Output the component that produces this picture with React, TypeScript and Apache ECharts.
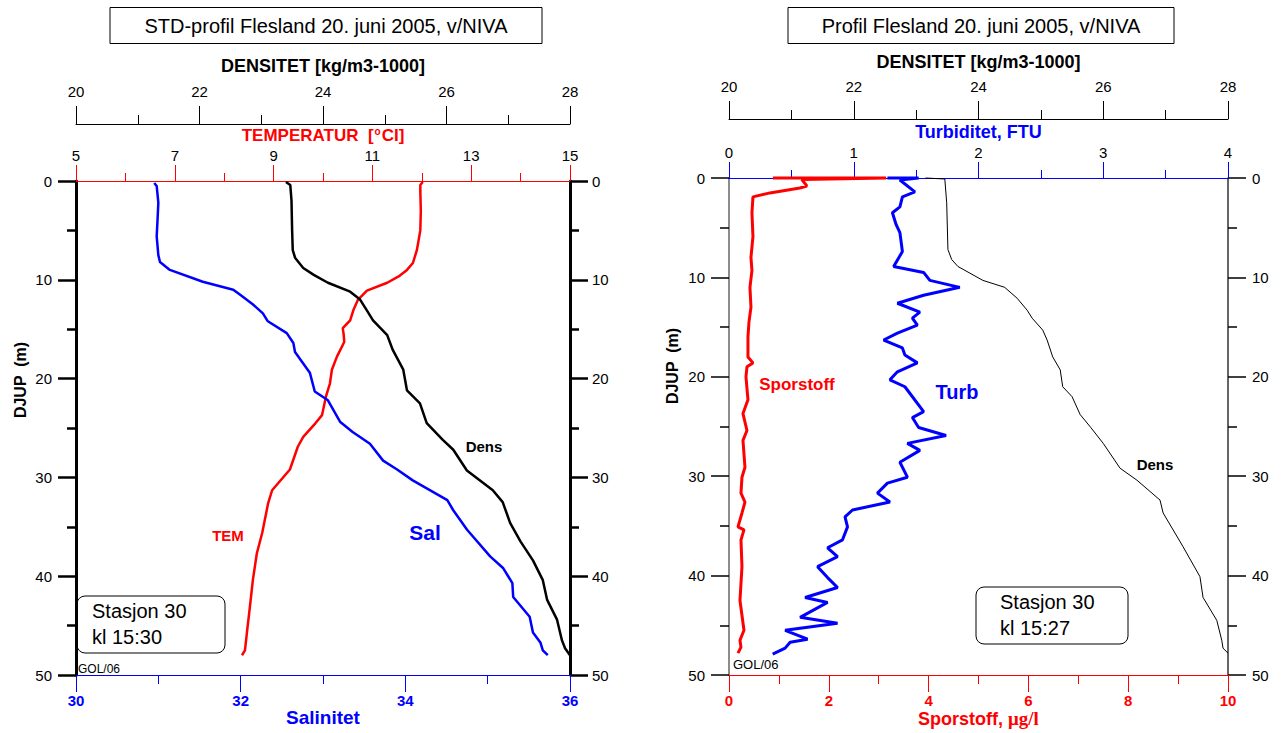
import React, { useEffect, useRef } from "react";
import * as echarts from "echarts";

// ---------- Left panel data (depth in m) ----------
const temDepth = [0.1, 0.4, 1, 3, 5, 7, 8.3, 9, 9.6, 10.3, 11.1, 12, 13, 14.1, 14.9, 15.6, 16.3, 17.8, 19.1, 20.5, 21.8, 23.7, 24.5, 25.9, 26.9, 29.2, 31.3, 32.6, 35.6, 37.7, 40.4, 43.1, 45.7, 47.5, 48];
const temVal = [12.02, 11.97, 11.97, 11.98, 11.97, 11.9, 11.82, 11.7, 11.55, 11.3, 10.89, 10.71, 10.62, 10.55, 10.4, 10.42, 10.43, 10.28, 10.18, 10.14, 10.06, 9.98, 9.85, 9.6, 9.49, 9.33, 8.97, 8.89, 8.77, 8.66, 8.58, 8.52, 8.46, 8.42, 8.36];

const salDepth = [0.2, 0.5, 2.2, 4, 5.6, 7.5, 8.2, 9, 10.2, 11, 11.5, 12.5, 13.4, 14.2, 15.4, 16.4, 17.3, 19.4, 21.3, 22.2, 24.4, 25.4, 26.6, 28.3, 29.2, 30.3, 32.3, 33.3, 35.3, 38, 39.2, 40.7, 42.1, 44.1, 45.7, 46.7, 47.5, 48];
const salVal = [30.95, 30.98, 31.0, 30.99, 30.98, 31.0, 31.02, 31.14, 31.54, 31.91, 31.99, 32.15, 32.27, 32.33, 32.56, 32.64, 32.66, 32.84, 32.9, 33.06, 33.21, 33.36, 33.57, 33.73, 33.9, 34.09, 34.51, 34.58, 34.75, 35.03, 35.19, 35.3, 35.31, 35.51, 35.55, 35.64, 35.67, 35.73];

const densLDepth = [0.1, 0.4, 2, 5, 7, 7.8, 8.8, 9.5, 10.3, 11.2, 12, 13, 14.1, 15.6, 17.1, 19.1, 21.2, 22.5, 24.5, 26.2, 27.2, 29.3, 31.3, 32.5, 34.6, 36.5, 38.4, 40.4, 42.4, 44.4, 46.5, 47.3, 48];
const densLVal = [23.4, 23.47, 23.49, 23.5, 23.51, 23.55, 23.68, 23.85, 24.08, 24.44, 24.6, 24.7, 24.81, 25.04, 25.13, 25.3, 25.36, 25.57, 25.68, 25.94, 26.11, 26.33, 26.75, 26.91, 27.03, 27.2, 27.4, 27.56, 27.63, 27.79, 27.87, 27.92, 28.0];

// ---------- Right panel data ----------
const sporDepth = [0, 0, 0.15, 0.8, 1.0, 1.5, 1.9, 3.5, 5.9, 8, 9.3, 11, 13, 14.5, 16, 18, 18.6, 19, 20, 22.3, 23.7, 25.4, 26.4, 29.1, 30.1, 31.7, 32.6, 33.7, 35.1, 35.4, 36.4, 39.1, 42.5, 45.5, 46.5, 47.2, 47.8];
const sporVal = [0.88, 3.15, 1.46, 1.56, 1.42, 0.82, 0.48, 0.46, 0.48, 0.44, 0.46, 0.42, 0.44, 0.4, 0.38, 0.38, 0.48, 0.36, 0.34, 0.38, 0.28, 0.36, 0.28, 0.32, 0.26, 0.24, 0.32, 0.26, 0.18, 0.3, 0.24, 0.26, 0.22, 0.3, 0.22, 0.24, 0.18];

const turbDepth = [0, 0, 0.2, 1.4, 1.9, 2.9, 3.5, 4.7, 5.5, 7.4, 8.9, 9.5, 10.3, 11.0, 11.8, 12.6, 13.5, 14.1, 14.8, 15.6, 16.3, 17.1, 17.8, 18.6, 19.5, 20.3, 21.0, 23.5, 24.1, 25.1, 25.9, 26.7, 27.4, 28.6, 30.1, 30.7, 31.7, 32.6, 33.4, 34.1, 35.1, 36.4, 37.2, 38.1, 39.1, 40.2, 41.2, 42.2, 42.7, 44.2, 44.8, 45.5, 46.4, 46.7, 47.3, 47.9];
const turbVal = [1.27, 1.52, 1.37, 1.49, 1.39, 1.37, 1.31, 1.34, 1.37, 1.39, 1.32, 1.56, 1.61, 1.85, 1.56, 1.35, 1.53, 1.47, 1.51, 1.35, 1.24, 1.39, 1.41, 1.51, 1.35, 1.29, 1.41, 1.56, 1.47, 1.52, 1.74, 1.43, 1.53, 1.37, 1.43, 1.27, 1.19, 1.29, 0.99, 0.93, 0.95, 0.91, 0.79, 0.87, 0.71, 0.79, 0.87, 0.61, 0.79, 0.57, 0.87, 0.45, 0.63, 0.49, 0.45, 0.35];

const densRDepth = [0, 0.1, 2.5, 7.2, 8.2, 8.9, 10.3, 11, 12.1, 13.3, 14.1, 15.3, 16.3, 18, 19.3, 21, 22, 23.8, 25.1, 26.7, 29.2, 30.4, 32.4, 33.7, 37.1, 40.1, 42.2, 44.5, 46.5, 47.3, 47.8];
const densRVal = [23.15, 23.46, 23.49, 23.51, 23.57, 23.67, 24.07, 24.42, 24.62, 24.78, 24.86, 25.03, 25.1, 25.19, 25.31, 25.35, 25.5, 25.63, 25.8, 26.0, 26.27, 26.54, 26.91, 26.96, 27.28, 27.55, 27.6, 27.82, 27.9, 27.92, 28.0];

const FONT = '"Liberation Sans", Arial, sans-serif';

function pairs(vals: number[], depths: number[]) {
  return vals.map((v, i) => [v, depths[i]]);
}

function xAx(o: any) {
  return {
    type: "value",
    gridIndex: o.grid,
    position: o.pos,
    offset: o.offset || 0,
    min: o.min,
    max: o.max,
    interval: o.interval,
    splitLine: { show: false },
    axisLine: { show: true, onZero: false, lineStyle: { color: o.lineColor, width: o.lineWidth || 1 } },
    axisTick: { show: true, length: o.tickLen || 16, lineStyle: { color: o.tickColor || o.lineColor, width: 1 } },
    minorTick: { show: true, splitNumber: 2, length: o.minorLen || 8, lineStyle: { color: o.tickColor || o.lineColor, width: 1 } },
    axisLabel: {
      margin: o.labelMargin,
      color: o.labelColor,
      fontFamily: FONT,
      fontSize: 15,
      fontWeight: o.labelBold ? "bold" : "normal",
    },
    name: o.name,
    nameLocation: "middle",
    nameGap: o.nameGap,
    nameMoveOverlap: false,
    nameTextStyle: o.nameStyle,
  };
}

function yAx(o: any) {
  return {
    type: "value",
    gridIndex: o.grid,
    position: o.pos,
    inverse: true,
    min: 0,
    max: 50,
    interval: 10,
    splitLine: { show: false },
    axisLine: { show: true, onZero: false, lineStyle: { color: o.lineColor, width: o.lineWidth } },
    axisTick: { show: true, length: 18, lineStyle: { color: "#000", width: o.tickWidth } },
    minorTick: { show: true, splitNumber: 2, length: 9, lineStyle: { color: "#000", width: o.tickWidth } },
    axisLabel: { margin: o.labelMargin, color: "#000", fontFamily: FONT, fontSize: 15 },
  };
}

export default function App() {
  const ref = useRef<HTMLDivElement>(null);
  useEffect(() => {
    document.body.style.margin = "0";
    const chart = echarts.init(ref.current!, null, { renderer: "svg" });
    const option: any = {
      animation: false,
      backgroundColor: "#fff",
      grid: [
        { left: 76, top: 181, width: 494, height: 494, outerBoundsMode: "none" },
        { left: 729, top: 178, width: 499, height: 497, outerBoundsMode: "none" },
      ],
      xAxis: [
        xAx({
          grid: 0, pos: "top", min: 5, max: 15, interval: 2, lineColor: "#ff0000", labelColor: "#000", labelMargin: 18,
          name: "{a|TEMPERATUR  [}{s|o}{a|CI]}", nameGap: 37,
          nameStyle: { rich: { a: { color: "#ff0000", fontFamily: FONT, fontWeight: "bold", fontSize: 17 }, s: { color: "#ff0000", fontFamily: FONT, fontWeight: "bold", fontSize: 10, padding: [0, 1, 8, 1] } } },
        }),
        xAx({
          grid: 0, pos: "top", offset: 57, min: 20, max: 28, interval: 2, lineColor: "#000", labelColor: "#000", labelMargin: 25, tickLen: 18, minorLen: 9,
          name: "DENSITET [kg/m3-1000]", nameGap: 49,
          nameStyle: { color: "#000", fontFamily: FONT, fontWeight: "bold", fontSize: 18 },
        }),
        xAx({
          grid: 0, pos: "bottom", min: 30, max: 36, interval: 2, lineColor: "#0000ff", labelColor: "#0000ff", labelBold: true, labelMargin: 18, tickLen: 17, minorLen: 9,
          name: "Salinitet", nameGap: 33,
          nameStyle: { color: "#0000ff", fontFamily: FONT, fontWeight: "bold", fontSize: 19 },
        }),
        xAx({
          grid: 1, pos: "top", min: 0, max: 4, interval: 1, lineColor: "#0000ff", labelColor: "#000", labelMargin: 18,
          name: "Turbiditet, FTU", nameGap: 37,
          nameStyle: { color: "#0000ff", fontFamily: FONT, fontWeight: "bold", fontSize: 18 },
        }),
        xAx({
          grid: 1, pos: "top", offset: 59, min: 20, max: 28, interval: 2, lineColor: "#000", labelColor: "#000", labelMargin: 25, tickLen: 18, minorLen: 9,
          name: "DENSITET [kg/m3-1000]", nameGap: 48,
          nameStyle: { color: "#000", fontFamily: FONT, fontWeight: "bold", fontSize: 18 },
        }),
        xAx({
          grid: 1, pos: "bottom", min: 0, max: 10, interval: 2, lineColor: "#ff0000", labelColor: "#ff0000", labelBold: true, labelMargin: 18, tickLen: 17, minorLen: 9,
          name: "{a|Sporstoff, }{b|μg/l}", nameGap: 34,
          nameStyle: { rich: { a: { color: "#ff0000", fontFamily: FONT, fontWeight: "bold", fontSize: 18 }, b: { color: "#ff0000", fontFamily: '"Liberation Serif", serif', fontWeight: "bold", fontSize: 19 } } },
        }),
      ],
      yAxis: [
        yAx({ grid: 0, pos: "left", lineColor: "#000", lineWidth: 3, tickWidth: 2.5, labelMargin: 24 }),
        yAx({ grid: 0, pos: "right", lineColor: "#000", lineWidth: 3, tickWidth: 2.5, labelMargin: 22 }),
        yAx({ grid: 1, pos: "left", lineColor: "#666", lineWidth: 1.5, tickWidth: 1.5, labelMargin: 24 }),
        yAx({ grid: 1, pos: "right", lineColor: "#333", lineWidth: 1.5, tickWidth: 1.5, labelMargin: 24 }),
      ],
      series: [
        { type: "line", xAxisIndex: 0, yAxisIndex: 0, data: pairs(temVal, temDepth), symbol: "none", clip: false, lineStyle: { color: "#ff0000", width: 2.5 } },
        { type: "line", xAxisIndex: 2, yAxisIndex: 0, data: pairs(salVal, salDepth), symbol: "none", clip: false, lineStyle: { color: "#0000ff", width: 2.5 } },
        { type: "line", xAxisIndex: 1, yAxisIndex: 0, data: pairs(densLVal, densLDepth), symbol: "none", clip: false, lineStyle: { color: "#000", width: 2.5 } },
        { type: "line", xAxisIndex: 5, yAxisIndex: 2, data: pairs(sporVal, sporDepth), symbol: "none", clip: false, lineStyle: { color: "#ff0000", width: 3 } },
        { type: "line", xAxisIndex: 3, yAxisIndex: 2, data: pairs(turbVal, turbDepth), symbol: "none", clip: false, lineStyle: { color: "#0000ff", width: 3 } },
        { type: "line", xAxisIndex: 4, yAxisIndex: 2, data: pairs(densRVal, densRDepth), symbol: "none", clip: false, lineStyle: { color: "#000", width: 1 } },
      ],
      graphic: [
        { type: "rect", shape: { x: 110, y: 7.5, width: 432, height: 36 }, style: { fill: "#fff", stroke: "#000", lineWidth: 1 } },
        { type: "text", x: 326, y: 26, style: { text: "STD-profil Flesland 20. juni 2005, v/NIVA", font: `20px ${FONT}`, fill: "#000", align: "center", verticalAlign: "middle" } },
        { type: "rect", shape: { x: 788, y: 7.5, width: 386, height: 36 }, style: { fill: "#fff", stroke: "#000", lineWidth: 1 } },
        { type: "text", x: 981, y: 26, style: { text: "Profil Flesland 20. juni 2005, v/NIVA", font: `20px ${FONT}`, fill: "#000", align: "center", verticalAlign: "middle" } },
        { type: "text", x: 20, y: 380, rotation: Math.PI / 2, style: { text: "DJUP  (m)", font: `bold 16px ${FONT}`, fill: "#000", align: "center", verticalAlign: "middle" } },
        { type: "text", x: 672, y: 366, rotation: Math.PI / 2, style: { text: "DJUP  (m)", font: `bold 16px ${FONT}`, fill: "#000", align: "center", verticalAlign: "middle" } },
        { type: "rect", shape: { x: 77, y: 596, width: 148, height: 57, r: 8 }, style: { fill: "#fff", stroke: "#000", lineWidth: 1 } },
        { type: "text", x: 92, y: 598, style: { text: "Stasjon 30\nkl 15:30", font: `20px ${FONT}`, fill: "#000", lineHeight: 26 } },
        { type: "rect", shape: { x: 976, y: 587, width: 152, height: 57, r: 8 }, style: { fill: "#fff", stroke: "#000", lineWidth: 1 } },
        { type: "text", x: 1000, y: 589, style: { text: "Stasjon 30\nkl 15:27", font: `20px ${FONT}`, fill: "#000", lineHeight: 26 } },
        { type: "text", x: 78, y: 669, style: { text: "GOL/06", font: `12px ${FONT}`, fill: "#000", verticalAlign: "middle" } },
        { type: "text", x: 733, y: 664, style: { text: "GOL/06", font: `13px ${FONT}`, fill: "#000", verticalAlign: "middle" } },
        { type: "text", x: 484, y: 446, style: { text: "Dens", font: `bold 15px ${FONT}`, fill: "#000", align: "center", verticalAlign: "middle" } },
        { type: "text", x: 425, y: 532, style: { text: "Sal", font: `bold 21px ${FONT}`, fill: "#0000ff", align: "center", verticalAlign: "middle" } },
        { type: "text", x: 228, y: 535, style: { text: "TEM", font: `bold 15px ${FONT}`, fill: "#ff0000", align: "center", verticalAlign: "middle" } },
        { type: "text", x: 797, y: 384, style: { text: "Sporstoff", font: `bold 17px ${FONT}`, fill: "#ff0000", align: "center", verticalAlign: "middle" } },
        { type: "text", x: 957, y: 392, style: { text: "Turb", font: `bold 20px ${FONT}`, fill: "#0000ff", align: "center", verticalAlign: "middle" } },
        { type: "text", x: 1155, y: 464, style: { text: "Dens", font: `bold 15px ${FONT}`, fill: "#000", align: "center", verticalAlign: "middle" } },
      ],
    };
    chart.setOption(option);
    return () => chart.dispose();
  }, []);
  return <div ref={ref} style={{ position: "fixed", left: 0, top: 0, width: 1286, height: 733 }} />;
}
